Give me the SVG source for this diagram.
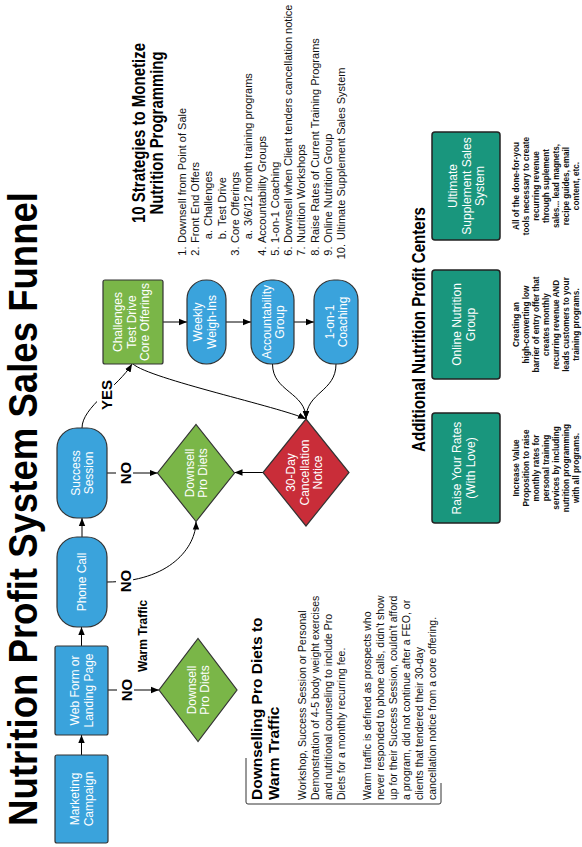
<svg xmlns="http://www.w3.org/2000/svg" width="582" height="847" viewBox="0 0 582 847">
<defs>
<style>
text{font-family:"Liberation Sans",Arial,sans-serif}
.nt{fill:#fff;font-size:12px;text-anchor:middle}
.blue{fill:#3aa3dc;stroke:#333;stroke-width:1.2}
.green{fill:#7ab648;stroke:#333;stroke-width:1.2}
.red{fill:#c92d39;stroke:#333;stroke-width:1.2}
.teal{fill:#19967d;stroke:#222;stroke-width:1.5}
.c{fill:none;stroke:#000;stroke-width:1;marker-end:url(#arr)}
.lbl{font-size:15px;font-weight:bold;fill:#000;text-anchor:middle}
.bg{fill:#fff;stroke:none}
.desc{font-size:8.2px;font-weight:bold;fill:#111;text-anchor:middle}
.body{font-size:10.5px;fill:#111}
.li{font-size:11px;fill:#111}
.num{font-size:11px;fill:#111;text-anchor:end}
</style>
<marker id="arr" viewBox="0 0 10 10" refX="10" refY="5" markerWidth="8" markerHeight="8" markerUnits="userSpaceOnUse" orient="auto"><path d="M0,1L10,5L0,9z" fill="#000"/></marker>
</defs>
<rect width="582" height="847" fill="#fff"/>
<g transform="translate(0,847) rotate(-90)">
<text id="title" x="21" y="37" font-size="40" font-weight="bold" textLength="634" lengthAdjust="spacingAndGlyphs">Nutrition Profit System Sales Funnel</text>

<g id="connectors">
<path class="c" d="M92,81.5H112"/>
<path class="c" d="M201,81.5H220"/>
<path class="c" d="M310,82H329"/>
<path class="c" d="M157,108V159"/>
<path class="c" d="M265,107C265,170 300,196 325.5,196"/>
<path class="c" d="M374,106V157.5"/>
<path class="c" d="M419,82C440,82 460,118 483,132"/>
<path class="c" d="M483,133C468,150 440,280 428,306"/>
<path class="c" d="M483,272.5C455,272.5 455,306 428,306"/>
<path class="c" d="M483,336C455,336 455,306 428,306"/>
<path class="c" d="M374.5,263V234.5"/>
<path class="c" d="M525,163V187"/>
<path class="c" d="M525,226V251"/>
<path class="c" d="M525,294V314"/>
<rect class="bg" x="144" y="117" width="26" height="17"/>
<text class="lbl" x="157" y="132">NO</text>
<rect class="bg" x="253" y="116" width="26" height="17"/>
<text class="lbl" x="266" y="131">NO</text>
<rect class="bg" x="361" y="116" width="26" height="17"/>
<text class="lbl" x="374" y="131">NO</text>
<rect class="bg" x="436" y="97" width="32" height="17"/>
<text class="lbl" x="452" y="112">YES</text>
<text x="175" y="147" font-size="12" font-weight="bold">Warm Traffic</text>
</g>

<g id="marketing">
<rect class="blue" x="4" y="55" width="88" height="53" rx="2"/>
<text class="nt" x="48" y="79">Marketing</text>
<text class="nt" x="48" y="92.5">Campaign</text>
</g>
<g id="webform">
<rect class="blue" x="112" y="55" width="89" height="53" rx="2"/>
<text class="nt" x="156.5" y="79">Web Form or</text>
<text class="nt" x="156.5" y="92.5">Landing Page</text>
</g>
<g id="phonecall">
<rect class="blue" x="220" y="57" width="90" height="50" rx="20"/>
<text class="nt" x="265" y="86">Phone Call</text>
</g>
<g id="success">
<rect class="blue" x="329" y="57" width="90" height="50" rx="20"/>
<text class="nt" x="374" y="79.5">Success</text>
<text class="nt" x="374" y="93">Session</text>
</g>
<g id="challenges">
<rect class="green" x="483" y="103" width="84" height="60" rx="2"/>
<text class="nt" x="525" y="122">Challenges</text>
<text class="nt" x="525" y="135.5">Test Drive</text>
<text class="nt" x="525" y="149">Core Offerings</text>
</g>
<g id="weekly">
<rect class="blue" x="483" y="187" width="84" height="39" rx="19"/>
<text class="nt" x="525" y="202">Weekly</text>
<text class="nt" x="525" y="215.5">Weigh-Ins</text>
</g>
<g id="accountability">
<rect class="blue" x="483" y="251" width="84" height="43" rx="20"/>
<text class="nt" x="525" y="270.5">Accountability</text>
<text class="nt" x="525" y="284">Group</text>
</g>
<g id="coaching">
<rect class="blue" x="483" y="314" width="84" height="44" rx="20"/>
<text class="nt" x="525" y="333.5">1-on-1</text>
<text class="nt" x="525" y="347">Coaching</text>
</g>
<g id="downsell-mid">
<polygon class="green" points="325.5,196 374,157.5 422.5,196 374,234.5"/>
<text class="nt" x="374" y="193.5">Downsell</text>
<text class="nt" x="374" y="207">Pro Diets</text>
</g>
<g id="cancellation">
<polygon class="red" points="321,306 374.5,263 428,306 374.5,349"/>
<text class="nt" x="374.5" y="295">30-Day</text>
<text class="nt" x="374.5" y="308.5">Cancellation</text>
<text class="nt" x="374.5" y="322">Notice</text>
</g>
<g id="downsell-warm">
<polygon class="green" points="105.5,198 157,159 208.5,198 157,237"/>
<text class="nt" x="157" y="195.5">Downsell</text>
<text class="nt" x="157" y="209">Pro Diets</text>
</g>

<g id="strategies">
<text x="714" y="145" font-size="17.5" font-weight="bold" text-anchor="middle" textLength="180" lengthAdjust="spacingAndGlyphs">10 Strategies to Monetize</text>
<text x="714" y="163" font-size="17.5" font-weight="bold" text-anchor="middle" textLength="163" lengthAdjust="spacingAndGlyphs">Nutrition Programming</text>
<text class="num" x="600.5" y="185.7">1.</text><text class="li" x="604" y="185.7">Downsell from Point of Sale</text>
<text class="num" x="600.5" y="199">2.</text><text class="li" x="604" y="199">Front End Offers</text>
<text class="num" x="617" y="212.3">a.</text><text class="li" x="621" y="212.3">Challenges</text>
<text class="num" x="617" y="225.6">b.</text><text class="li" x="621" y="225.6">Test Drive</text>
<text class="num" x="600.5" y="238.9">3.</text><text class="li" x="604" y="238.9">Core Offerings</text>
<text class="num" x="617" y="252.2">a.</text><text class="li" x="621" y="252.2">3/6/12 month training programs</text>
<text class="num" x="600.5" y="265.5">4.</text><text class="li" x="604" y="265.5">Accountability Groups</text>
<text class="num" x="600.5" y="278.8">5.</text><text class="li" x="604" y="278.8">1-on-1 Coaching</text>
<text class="num" x="600.5" y="292.1">6.</text><text class="li" x="604" y="292.1">Downsell when Client tenders cancellation notice</text>
<text class="num" x="600.5" y="305.4">7.</text><text class="li" x="604" y="305.4">Nutrition Workshops</text>
<text class="num" x="600.5" y="318.7">8.</text><text class="li" x="604" y="318.7">Raise Rates of Current Training Programs</text>
<text class="num" x="600.5" y="332">9.</text><text class="li" x="604" y="332">Online Nutrition Group</text>
<text class="num" x="603" y="345.3">10.</text><text class="li" x="607" y="345.3">Ultimate Supplement Sales System</text>
</g>

<g id="downselling-note">
<path d="M89,246H45Q43,246 43,248V439Q43,441 45,441H64" fill="none" stroke="#333" stroke-width="1"/>
<text x="47" y="262" font-size="15.5" font-weight="bold">Downselling Pro Diets to</text>
<text x="47" y="279" font-size="15.5" font-weight="bold">Warm Traffic</text>
<text class="body" x="47" y="305.5">Workshop, Success Session or Personal</text>
<text class="body" x="47" y="318.5">Demonstration of 4-5 body weight exercises</text>
<text class="body" x="47" y="331.5">and nutritional counseling to include Pro</text>
<text class="body" x="47" y="344.5">Diets for a monthly recurring fee.</text>
<text class="body" x="47" y="370.5">Warm traffic is defined as prospects who</text>
<text class="body" x="47" y="383.5">never responded to phone calls, didn't show</text>
<text class="body" x="47" y="396.5">up for their Success Session, couldn't afford</text>
<text class="body" x="47" y="409.5">a program, did not continue after a FEO, or</text>
<text class="body" x="47" y="422.5">clients that tendered their 30-day</text>
<text class="body" x="47" y="435.5">cancellation notice from a core offering.</text>
</g>

<text id="profit-heading" x="395" y="425" font-size="18" font-weight="bold" textLength="245" lengthAdjust="spacingAndGlyphs">Additional Nutrition Profit Centers</text>

<g id="raise-rates">
<rect class="teal" x="324" y="432" width="110" height="68" rx="3"/>
<text class="nt" x="379" y="461">Raise Your Rates</text>
<text class="nt" x="379" y="474.5">(With Love)</text>
<text class="desc" x="379" y="518.5">Increase Value</text>
<text class="desc" x="379" y="528.5">Proposition to raise</text>
<text class="desc" x="379" y="538.5">monthly rates for</text>
<text class="desc" x="379" y="548.5">personal training</text>
<text class="desc" x="379" y="558.5">services by including</text>
<text class="desc" x="379" y="568.5">nutrition programming</text>
<text class="desc" x="379" y="578.5">with all programs.</text>
</g>
<g id="online-group">
<rect class="teal" x="468" y="432" width="109" height="68" rx="3"/>
<text class="nt" x="522.5" y="461">Online Nutrition</text>
<text class="nt" x="522.5" y="474.5">Group</text>
<text class="desc" x="522.5" y="518.5">Creating an</text>
<text class="desc" x="522.5" y="528.5">high-converting low</text>
<text class="desc" x="522.5" y="538.5">barrier of entry offer that</text>
<text class="desc" x="522.5" y="548.5">creates monthly</text>
<text class="desc" x="522.5" y="558.5">recurring  revenue AND</text>
<text class="desc" x="522.5" y="568.5">leads customers to your</text>
<text class="desc" x="522.5" y="578.5">training programs.</text>
</g>
<g id="supplement-system">
<rect class="teal" x="607" y="432" width="108" height="68" rx="3"/>
<text class="nt" x="661" y="457">Ultimate</text>
<text class="nt" x="661" y="470.5">Supplement Sales</text>
<text class="nt" x="661" y="484">System</text>
<text class="desc" x="661" y="518.5">All of the done-for-you</text>
<text class="desc" x="661" y="528.5">tools necessary to create</text>
<text class="desc" x="661" y="538.5">recurring revenue</text>
<text class="desc" x="661" y="548.5">through suplement</text>
<text class="desc" x="661" y="558.5">sales... lead magnets,</text>
<text class="desc" x="661" y="568.5">recipe guides, email</text>
<text class="desc" x="661" y="578.5">content, etc.</text>
</g>
</g>
</svg>
